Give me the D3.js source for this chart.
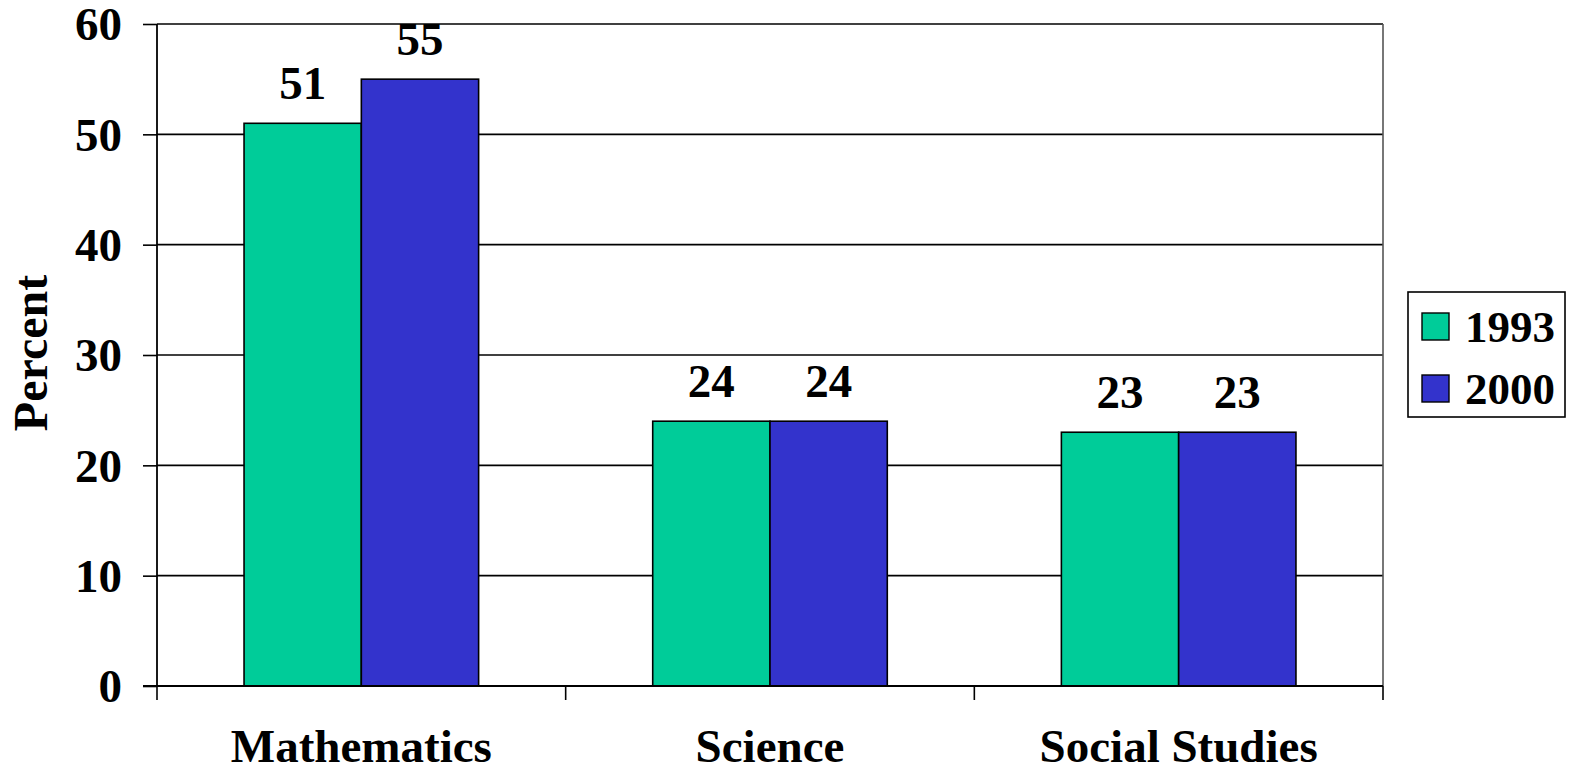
<!DOCTYPE html>
<html>
<head>
<meta charset="utf-8">
<script src="https://cdn.jsdelivr.net/npm/d3@7"></script>
<style>
  html, body { margin: 0; padding: 0; background: #fff; }
  svg text { font-family: "Liberation Serif", "Times New Roman", serif; font-weight: bold; fill: #000; }
</style>
</head>
<body>
<svg id="chart" width="1573" height="775"></svg>
<script>
// Share of students by subject, two survey years
const subjects = ["Mathematics", "Science", "Social Studies"];
const years = ["1993", "2000"];
const values1993 = [51, 24, 23];
const values2000 = [55, 24, 23];
const yTicks = [0, 10, 20, 30, 40, 50, 60];
const colors = ["#00CC99", "#3333CC"];

const svg = d3.select("#chart");
const margin = { left: 157, top: 24, right: 1383, bottom: 686 };
const FS = 47;

const x = d3.scaleBand().domain(subjects).range([margin.left, margin.right]).padding(0);
// two bars sit together in the middle of each category slot
const groupInset = x.bandwidth() * 0.213;
const x1 = d3.scaleBand().domain(years).range([groupInset, x.bandwidth() - groupInset]).padding(0);
const y = d3.scaleLinear().domain([0, 60]).range([margin.bottom, margin.top]);

// horizontal gridlines
svg.append("g").selectAll("line").data(yTicks.filter(d => d > 0)).join("line")
  .attr("x1", margin.left).attr("x2", margin.right)
  .attr("y1", d => y(d)).attr("y2", d => y(d))
  .attr("stroke", "#000").attr("stroke-width", 1.6);

// right frame edge
svg.append("line")
  .attr("x1", margin.right).attr("x2", margin.right)
  .attr("y1", margin.top).attr("y2", margin.bottom)
  .attr("stroke", "#555").attr("stroke-width", 1.6);

// bars
const rows = subjects.map((s, i) => ({ subject: s, vals: [values1993[i], values2000[i]] }));
const groups = svg.append("g").selectAll("g").data(rows).join("g")
  .attr("transform", d => `translate(${x(d.subject)},0)`);

const cells = d => d.vals.map((v, j) => ({ year: years[j], v, j }));

groups.selectAll("rect").data(cells).join("rect")
  .attr("x", d => x1(d.year))
  .attr("y", d => y(d.v))
  .attr("width", x1.bandwidth())
  .attr("height", d => y(0) - y(d.v))
  .attr("fill", d => colors[d.j])
  .attr("stroke", "#000").attr("stroke-width", 1.6);

groups.selectAll("text.val").data(cells).join("text")
  .attr("class", "val")
  .attr("x", d => x1(d.year) + x1.bandwidth() / 2)
  .attr("y", d => y(d.v) - 24)
  .attr("text-anchor", "middle")
  .attr("font-size", FS)
  .text(d => d.v);

// y axis
const yAxis = d3.axisLeft(y).tickValues(yTicks).tickSize(14).tickPadding(21).tickFormat(d3.format("d"));
const gy = svg.append("g").attr("transform", `translate(${margin.left},0)`).call(yAxis);
gy.select(".domain").attr("stroke", "#000").attr("stroke-width", 1.8).attr("d", `M0,${margin.top}V${margin.bottom}`);
gy.selectAll(".tick line").attr("stroke", "#000").attr("stroke-width", 1.6);
gy.selectAll(".tick text").attr("font-size", FS).attr("font-family", null).attr("dy", "0.34em");

// x axis with boundary ticks between categories
const gx = svg.append("g").attr("transform", `translate(0,${margin.bottom})`);
gx.append("line").attr("x1", margin.left - 14).attr("x2", margin.right)
  .attr("stroke", "#000").attr("stroke-width", 1.8);
const boundaries = subjects.map(s => x(s)).concat([x(subjects[subjects.length - 1]) + x.bandwidth()]);
gx.selectAll("line.tick").data(boundaries).join("line").attr("class", "tick")
  .attr("x1", d => d).attr("x2", d => d).attr("y1", 0).attr("y2", 14)
  .attr("stroke", "#000").attr("stroke-width", 1.6);
gx.selectAll("text").data(subjects).join("text")
  .attr("x", d => x(d) + x.bandwidth() / 2)
  .attr("y", 76)
  .attr("text-anchor", "middle")
  .attr("font-size", FS)
  .text(d => d);

// y axis title
svg.append("text")
  .attr("transform", "translate(47,353) rotate(-90)")
  .attr("text-anchor", "middle")
  .attr("font-size", 48)
  .text("Percent");

// legend
const lg = svg.append("g").attr("transform", "translate(1408,292)");
lg.append("rect").attr("width", 157).attr("height", 125)
  .attr("fill", "#fff").attr("stroke", "#000").attr("stroke-width", 1.6);
const items = lg.selectAll("g").data(years).join("g")
  .attr("transform", (d, i) => `translate(0,${i * 62})`);
items.append("rect").attr("x", 14).attr("y", 21).attr("width", 27).attr("height", 27)
  .attr("fill", (d, i) => colors[i]).attr("stroke", "#000").attr("stroke-width", 1.4);
items.append("text").attr("x", 57).attr("y", 50).attr("font-size", 45).text(d => d);
</script>
</body>
</html>
